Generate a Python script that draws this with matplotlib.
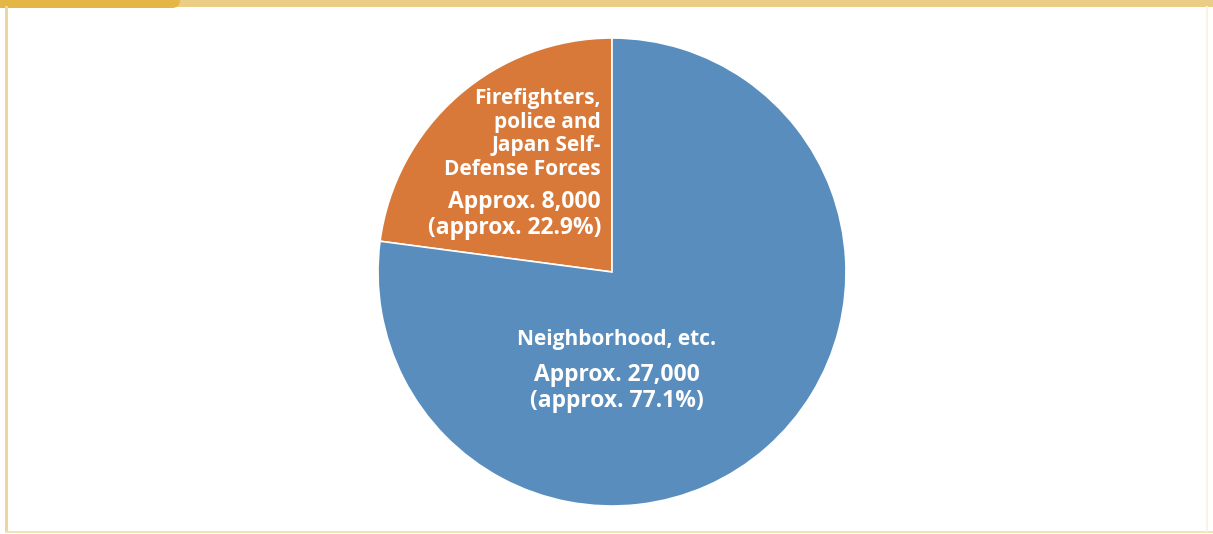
#!/usr/bin/env python3
import matplotlib.pyplot as plt
from matplotlib.patches import Rectangle, FancyBboxPatch

# slice data
labels = ["Firefighters,\npolice and\nJapan Self-\nDefense Forces", "Neighborhood, etc."]
counts = ["Approx. 8,000\n(approx. 22.9%)", "Approx. 27,000\n(approx. 77.1%)"]
shares = [22.9, 77.1]
colors = ["#d8793a", "#588dbe"]

W, H = 1213, 534
fig = plt.figure(figsize=(W / 100, H / 100), dpi=100)
ax = fig.add_axes([0, 0, 1, 1])

# pie
ax.pie(shares, colors=colors, startangle=90, counterclock=True,
       center=(612, H - 272), radius=234, frame=True,
       wedgeprops=dict(edgecolor="white", linewidth=1.2))
ax.set_xlim(0, W)
ax.set_ylim(0, H)
ax.set_aspect("equal")
ax.axis("off")

# frame: gold top strip with darker tab, thin side/bottom lines
ax.add_patch(Rectangle((0, H - 7), W, 7, color="#eccd86", lw=0))
ax.add_patch(FancyBboxPatch((-20, H - 8), 200, 20,
                            boxstyle="round,pad=0,rounding_size=8",
                            color="#e3b646", lw=0))
ax.add_patch(Rectangle((5, 2), 3, H - 8, color="#ebd6a0", lw=0))
ax.add_patch(Rectangle((5, 1), W - 5, 2, color="#f1e2b8", lw=0))
ax.add_patch(Rectangle((W - 7, 2), 2, H - 8, color="#faf3e2", lw=0))

font = "Open Sans"
ax.text(601, H - 134, labels[0], ha="right", va="center", color="white",
        fontsize=15, fontweight="bold", family=font, linespacing=1.17)
ax.text(601, H - 215, counts[0], ha="right", va="center", color="white",
        fontsize=16.5, fontweight="bold", family=font, linespacing=1.12)
ax.text(617, H - 340, labels[1], ha="center", va="center", color="white",
        fontsize=15, fontweight="bold", family=font)
ax.text(617, H - 388, counts[1], ha="center", va="center", color="white",
        fontsize=16.5, fontweight="bold", family=font, linespacing=1.12)

fig.savefig("out.png", dpi=100, facecolor="white")
